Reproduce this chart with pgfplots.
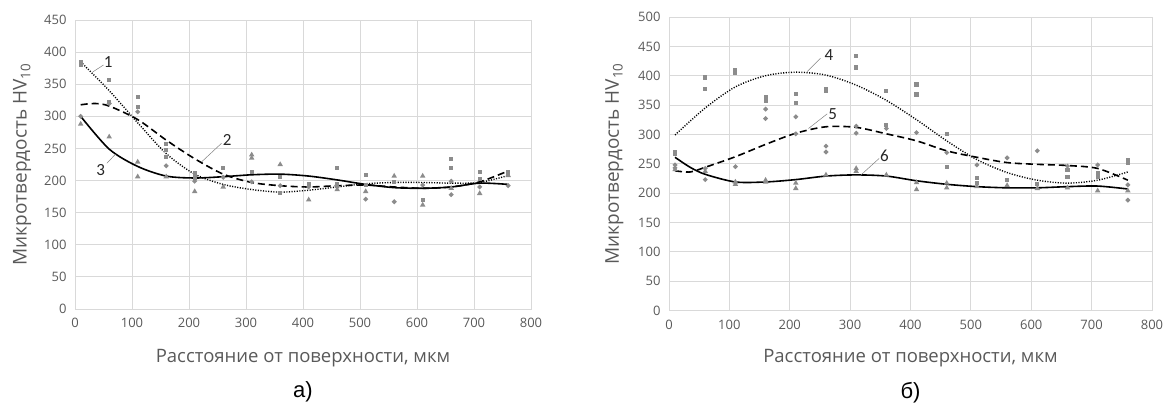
\documentclass[border=0pt]{standalone}
\usepackage{fontspec}
\setmainfont{Open Sans}
\newfontfamily\arial{Liberation Sans}
\newfontfamily\calib{Carlito}
\usepackage{pgfplots}
\pgfplotsset{compat=1.18}
\definecolor{tickgray}{HTML}{595959}
\definecolor{gridgray}{HTML}{D9D9D9}
\definecolor{markgray}{HTML}{8C8C8C}
\tikzset{
  lead/.style={draw=gray, line width=0.5pt},
  num/.style={font=\calib\fontsize{17}{17}\selectfont, text=black!85},
}
\pgfplotsset{
  panel/.style={
    scale only axis,
    xmin=0, xmax=800,
    ymin=0,
    xtick={0,100,...,800},
    grid=major,
    major grid style={gridgray, line width=0.8pt},
    axis line style={gridgray, line width=0.8pt},
    tick style={draw=none},
    /pgf/number format/assume math mode=true,
    ticklabel style={font=\fontsize{13}{13}\selectfont, text=tickgray},
    xticklabel style={yshift=-6pt},
    yticklabel style={xshift=-5pt},
    xlabel style={font=\fontsize{18.5}{18.5}\selectfont, text=tickgray},
    ylabel style={font=\fontsize{19}{19}\selectfont, text=tickgray},
    every axis plot/.append style={line width=1.5pt},
    clip=false,
  },
  sq/.style={only marks, mark=square*, mark size=1.3pt, mark options={fill=markgray, draw=markgray}, color=markgray},
  ci/.style={only marks, mark=*, mark size=1.5pt, mark options={fill=markgray, draw=markgray}, color=markgray},
  tr/.style={only marks, mark=triangle*, mark size=1.7pt, mark options={fill=markgray, draw=markgray}, color=markgray},
  dotl/.style={black, line width=1.4pt, dash pattern=on 1.1pt off 1.5pt, smooth},
  dashl/.style={black, line width=1.6pt, dash pattern=on 7pt off 4pt, smooth},
  soll/.style={black, line width=1.6pt, smooth},
}
\begin{document}
\begin{tikzpicture}[x=1pt,y=1pt]
\path[use as bounding box] (0,0) rectangle (1165,405);
% ---------- panel a ----------
\begin{axis}[panel, at={(75pt,96pt)}, anchor=south west,
  width=456pt, height=289pt, ymax=450, ytick={0,50,...,450},
  xlabel={Расстояние от поверхности, мкм},
  ylabel={Микротвердость HV\textsubscript{10}},
  xlabel style={at={(axis description cs:0.5,-0.17)}, anchor=center},
  ylabel style={at={(axis description cs:-0.116,0.5)}, anchor=center},
]
\addplot[sq] coordinates {(10,385)(10,380)(60,357)(60,323)(110,330)(110,315)(160,257)(160,248)(160,236)(210,211)(210,204)(260,220)(310,214)(360,206)(360,181)(410,195)(460,220)(460,195)(510,208)(510,193)(560,198)(610,170)(660,233)(660,219)(710,213)(710,202)(760,214)(760,210)};
\addplot[ci] coordinates {(10,300)(60,320)(110,307)(160,223)(210,199)(260,205)(310,198)(360,192)(410,190)(460,190)(510,171)(560,167)(610,193)(660,199)(660,178)(710,190)(760,192)};
\addplot[tr] coordinates {(10,288)(60,268)(110,229)(110,206)(160,206)(210,183)(260,190)(310,240)(310,235)(360,225)(410,170)(460,186)(510,183)(560,207)(610,207)(610,162)(660,188)(710,180)(760,208)};
% trend lines
\addplot[dotl] coordinates {(10,385)(60,340)(110,290)(160,242)(210,210)(260,194)(310,186)(360,182)(410,185)(460,190)(510,195)(560,197)(610,197)(660,196)(710,197)(760,208)};
\addplot[dashl] coordinates {(10,318)(35,320)(60,316)(110,295)(160,263)(210,234)(260,210)(310,197)(360,192)(410,190)(460,192)(510,193)(560,190)(610,188)(660,190)(710,198)(760,215)};
\addplot[soll] coordinates {(10,300)(60,249)(110,222)(160,207)(210,204)(260,206)(310,209)(360,210)(410,207)(460,201)(510,194)(560,189)(610,188)(660,190)(710,196)(760,194)};
% annotations
\draw[lead] (axis cs:31,369) -- (axis cs:50,380);
\node[num] at (axis cs:58,384) {1};
\draw[lead] (axis cs:222,229) -- (axis cs:257,258);
\node[num] at (axis cs:267,263) {2};
\draw[lead] (axis cs:56,227) -- (axis cs:71,241);
\node[num] at (axis cs:45,217) {3};
\node[font=\arial\fontsize{22}{22}\selectfont] at (axis description cs:0.5,-0.285) {а)};
\end{axis}
% ---------- panel b ----------
\begin{axis}[panel, at={(669pt,94.5pt)}, anchor=south west,
  width=483pt, height=293.5pt, ymax=500, ytick={0,50,...,500},
  xlabel={Расстояние от поверхности, мкм},
  ylabel={Микротвердость HV\textsubscript{10}},
  xlabel style={at={(axis description cs:0.5,-0.162)}, anchor=center},
  ylabel style={at={(axis description cs:-0.113,0.5)}, anchor=center},
]
\addplot[sq] coordinates {(10,270)(10,267)(60,397)(60,378)(110,410)(110,404)(160,363)(160,357)(210,369)(210,353)(260,378)(260,374)(310,434)(310,414)(360,374)(360,316)(410,385)(410,368)(460,301)(460,244)(510,226)(510,217)(560,222)(610,215)(660,239)(660,228)(710,234)(710,228)(760,256)(760,252)};
\addplot[ci] coordinates {(10,248)(10,243)(60,242)(60,223)(110,245)(160,343)(160,327)(210,330)(210,301)(260,280)(260,270)(310,314)(310,302)(360,310)(410,303)(460,269)(510,248)(560,260)(610,272)(660,246)(710,248)(760,214)(760,188)};
\addplot[tr] coordinates {(10,240)(60,237)(110,219)(110,215)(160,222)(160,219)(210,217)(210,208)(260,231)(310,242)(310,237)(360,231)(410,218)(410,206)(460,217)(460,209)(510,211)(560,213)(610,208)(660,209)(710,204)(760,204)};
\addplot[dotl] coordinates {(10,299)(60,345)(110,381)(160,400)(210,406)(260,401)(310,384)(360,358)(410,325)(460,289)(510,257)(560,235)(610,222)(660,217)(710,222)(760,236)};
\addplot[dashl] coordinates {(10,238)(35,236)(60,244)(110,262)(160,283)(210,302)(260,313)(310,312)(360,301)(410,289)(460,272)(510,261)(560,252)(610,249)(660,247)(710,242)(760,222)};
\addplot[soll] coordinates {(10,261)(35,244)(60,232)(110,219)(160,219)(210,223)(260,229)(310,231)(360,229)(410,221)(460,215)(510,211)(560,209)(610,209)(660,211)(710,212)(760,207)};
\draw[lead] (axis cs:229,407) -- (axis cs:251,430);
\node[num] at (axis cs:265,436) {4};
\draw[lead] (axis cs:231,310) -- (axis cs:262,335);
\node[num] at (axis cs:271,335) {5};
\draw[lead] (axis cs:318,231) -- (axis cs:348,259);
\node[num] at (axis cs:357,263) {6};
\node[font=\arial\fontsize{22}{22}\selectfont] at (axis description cs:0.5,-0.28) {б)};
\end{axis}
\end{tikzpicture}
\end{document}
